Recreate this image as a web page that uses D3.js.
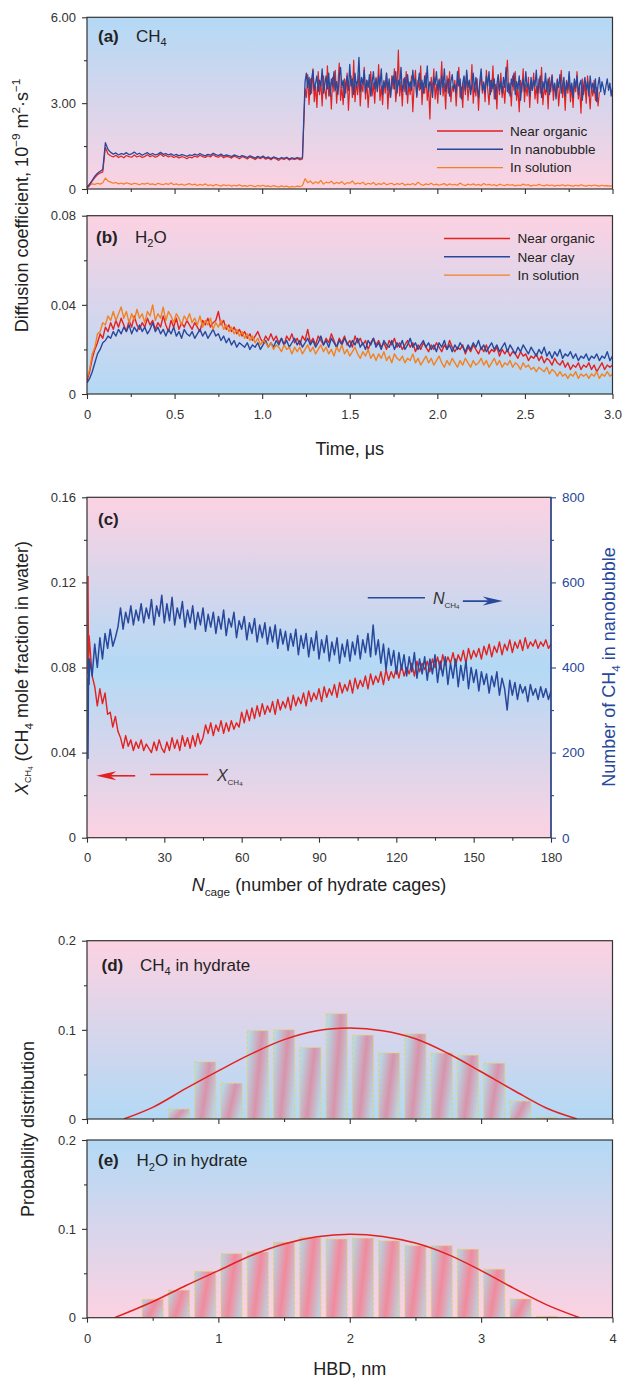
<!DOCTYPE html>
<html><head><meta charset="utf-8">
<script src="https://cdn.jsdelivr.net/npm/d3@7"></script>
<style>
body{margin:0;background:#fff;}
</style></head><body>
<svg id="chart" width="622" height="1380"></svg>
<script>
// ---------------- DATA ----------------
// Time grid 0..3 us (step 0.015 us) used for (a) "in solution" and all of (b)
const aTime = d3.range(201).map(i => +(i * 0.015).toFixed(4));
// (a) CH4 near organic / in nanobubble: 0..1.23 us at 0.015 us, then 1.245..3.0 us at 0.0075 us
const aTimeCH4 = aTime.slice(0, 83).concat(d3.range(235).map(i => +(1.245 + i * 0.0075).toFixed(4)));
const aNearOrganic = [0.02,0.12,0.28,0.40,0.50,0.56,0.60,1.45,1.22,1.16,
1.12,1.18,1.10,1.15,1.09,1.17,1.13,1.11,1.19,1.12,
1.16,1.10,1.14,1.20,1.13,1.17,1.11,1.15,1.22,1.14,
1.18,1.12,1.16,1.10,1.14,1.08,1.13,1.11,1.06,1.12,
1.09,1.15,1.11,1.18,1.13,1.10,1.16,1.12,1.20,1.14,
1.11,1.17,1.09,1.14,1.12,1.08,1.15,1.11,1.06,1.13,
1.10,1.05,1.12,1.08,1.03,1.10,1.06,1.12,1.04,1.08,
1.02,1.09,1.05,1.00,1.07,1.03,1.08,1.01,1.06,1.03,1.07,1.02,1.05,
3.50,3.20,4.00,2.95,3.85,3.35,4.20,3.05,3.60,2.85,
4.10,3.30,3.75,2.90,3.95,3.45,3.15,4.30,3.25,3.70,
2.80,3.90,3.40,4.15,3.00,3.65,4.40,3.10,3.55,2.95,
3.85,3.35,4.05,2.75,3.60,3.95,3.20,4.50,3.05,3.75,
3.30,4.00,2.90,3.65,3.40,4.25,3.15,3.80,2.85,3.55,
4.10,3.25,3.70,3.00,3.90,3.45,4.35,3.10,3.60,2.95,
3.80,3.35,4.05,2.80,3.70,3.20,3.95,3.50,4.20,3.05,
3.55,4.85,3.25,3.75,2.90,3.85,3.40,4.10,3.00,3.65,
3.30,3.95,2.70,3.60,4.15,3.20,3.80,3.45,4.30,2.95,
3.70,3.35,4.05,3.10,3.55,2.45,3.90,3.40,4.20,3.15,
3.65,3.00,3.85,3.50,4.45,3.25,3.70,2.80,3.95,3.35,
4.10,3.05,3.60,3.40,3.80,2.90,3.75,4.25,3.20,3.55,
2.85,3.90,3.30,4.05,3.10,3.65,3.45,4.35,3.00,3.70,
3.25,3.85,2.75,3.60,4.00,3.35,3.75,3.05,4.15,3.50,
2.95,3.80,3.40,4.30,3.15,3.65,2.80,3.90,3.30,4.05,
3.20,3.60,3.00,3.85,4.50,3.35,3.70,2.90,3.95,3.45,
4.10,3.10,3.55,2.70,3.80,3.40,4.20,3.05,3.65,3.25,
3.90,2.85,3.70,3.45,4.05,3.15,3.60,3.00,3.85,3.35,
4.25,2.95,3.55,3.30,3.75,2.80,3.90,3.40,4.00,3.10,
3.65,3.25,3.85,2.90,3.50,4.15,3.20,3.70,2.75,3.80,
3.35,3.95,3.05,3.60,2.85,3.75,3.40,4.10,3.15,3.55,
2.65,3.85,3.30,3.70,3.00,3.95,3.45,2.80,3.60,3.25,
3.80,3.10,3.55,2.90,3.40];
const aInNanobubble = [0.05,0.18,0.30,0.45,0.55,0.62,0.68,1.62,1.38,1.28,
1.22,1.26,1.19,1.24,1.21,1.27,1.20,1.23,1.29,1.21,
1.25,1.18,1.23,1.27,1.20,1.24,1.19,1.22,1.28,1.21,
1.24,1.19,1.23,1.17,1.21,1.16,1.20,1.18,1.14,1.19,
1.17,1.22,1.18,1.24,1.19,1.16,1.21,1.18,1.25,1.20,
1.17,1.22,1.15,1.19,1.17,1.13,1.19,1.16,1.12,1.17,
1.14,1.10,1.16,1.12,1.08,1.14,1.10,1.15,1.08,1.12,
1.06,1.12,1.09,1.05,1.10,1.07,1.11,1.05,1.09,1.06,1.10,1.07,1.09,
3.75,4.05,3.55,3.90,3.30,3.85,4.15,3.45,3.70,3.95,
3.40,3.80,3.60,4.20,3.35,3.65,3.95,3.50,4.05,3.25,
3.85,3.60,4.10,3.45,3.75,3.30,3.90,4.25,3.55,3.80,
3.20,3.70,3.95,3.45,4.35,3.60,3.85,3.30,4.05,3.55,
3.75,4.60,3.40,3.90,3.65,4.15,3.35,3.80,3.55,4.00,
3.25,3.70,4.10,3.50,3.85,3.40,3.95,3.60,4.20,3.30,
3.75,3.55,4.05,3.45,3.85,3.20,3.70,3.95,3.50,4.10,
3.35,3.80,3.60,4.25,3.40,3.65,3.90,3.30,4.00,3.55,
3.75,3.45,4.15,3.60,3.85,3.25,3.70,4.05,3.50,3.80,
3.35,3.95,3.55,4.30,3.40,3.75,3.60,3.20,3.90,3.65,
4.10,3.45,3.80,3.30,3.95,3.55,4.20,3.40,3.70,3.85,
3.25,3.75,4.00,3.50,3.65,3.35,4.10,3.60,3.85,3.15,
3.70,3.95,3.45,4.15,3.55,3.80,3.30,3.65,4.05,3.40,
3.90,3.55,3.20,3.75,4.20,3.45,3.70,3.35,3.95,3.60,
4.10,3.30,3.80,3.50,3.85,3.15,3.65,4.00,3.45,3.75,
3.35,3.90,3.55,4.25,3.40,3.70,3.25,3.85,3.60,4.05,
3.30,3.75,3.50,3.95,3.10,3.65,3.85,3.40,4.10,3.55,
3.70,3.25,3.90,3.45,3.80,3.60,4.15,3.35,3.65,3.95,
3.20,3.75,3.50,4.05,3.40,3.85,3.30,3.60,3.95,3.45,
3.70,3.15,3.80,3.55,4.00,3.35,3.65,3.90,3.25,3.75,
3.50,4.10,3.40,3.70,3.20,3.85,3.55,3.95,3.30,3.65,
3.80,3.10,3.60,3.90,3.45,3.75,3.25,3.95,3.50,3.70,
3.35,3.85,3.05,3.65,3.90,3.40,3.75,3.55,3.30,3.60,
3.85,3.45,3.70,3.25,3.55];
const aInSolution = [0.10,0.15,0.18,0.16,0.20,0.17,0.22,0.38,0.28,0.24,
0.20,0.23,0.18,0.21,0.17,0.22,0.19,0.16,0.20,0.18,
0.15,0.19,0.17,0.21,0.16,0.18,0.14,0.20,0.17,0.15,
0.19,0.16,0.22,0.15,0.18,0.14,0.17,0.13,0.16,0.19,
0.14,0.17,0.12,0.16,0.13,0.18,0.12,0.15,0.11,0.16,
0.13,0.10,0.15,0.12,0.14,0.10,0.13,0.11,0.15,0.10,
0.12,0.09,0.13,0.11,0.08,0.12,0.10,0.13,0.09,0.11,
0.08,0.12,0.09,0.07,0.11,0.08,0.10,0.06,0.09,0.07,0.10,0.08,0.12,
0.36,0.22,0.28,0.18,0.25,0.20,0.30,0.17,0.24,0.21,
0.27,0.18,0.23,0.19,0.26,0.16,0.22,0.20,0.28,0.17,
0.21,0.18,0.24,0.15,0.20,0.17,0.23,0.14,0.19,0.16,
0.22,0.15,0.18,0.20,0.14,0.19,0.16,0.21,0.13,0.17,
0.15,0.19,0.14,0.24,0.16,0.13,0.18,0.15,0.20,0.14,
0.17,0.13,0.16,0.19,0.12,0.18,0.14,0.16,0.13,0.21,
0.15,0.12,0.17,0.14,0.18,0.13,0.16,0.12,0.19,0.14,
0.16,0.13,0.15,0.11,0.17,0.14,0.12,0.16,0.13,0.15,
0.11,0.14,0.12,0.17,0.13,0.15,0.10,0.14,0.12,0.16,
0.13,0.11,0.15,0.12,0.14,0.10,0.13,0.12,0.15,0.11,
0.14,0.12,0.10,0.13,0.11,0.15,0.12,0.10,0.13,0.11,
0.14,0.12,0.10,0.13,0.11,0.12,0.10,0.12];

// (b) H2O diffusion coefficient, on aTime
const bNearOrganic = [0.006,0.010,0.016,0.020,0.023,0.027,0.025,0.030,0.028,0.032,
0.029,0.033,0.030,0.034,0.031,0.028,0.033,0.030,0.035,0.031,
0.029,0.032,0.030,0.034,0.031,0.033,0.029,0.032,0.030,0.035,
0.031,0.028,0.033,0.030,0.034,0.029,0.032,0.030,0.033,0.031,
0.029,0.032,0.030,0.028,0.033,0.031,0.034,0.030,0.032,0.033,
0.037,0.031,0.033,0.029,0.031,0.028,0.030,0.027,0.029,0.026,
0.028,0.025,0.027,0.024,0.026,0.028,0.025,0.023,0.026,0.024,
0.027,0.024,0.026,0.023,0.025,0.022,0.026,0.024,0.027,0.023,
0.025,0.022,0.026,0.024,0.029,0.023,0.025,0.022,0.026,0.024,
0.022,0.025,0.023,0.027,0.024,0.021,0.025,0.023,0.026,0.022,
0.024,0.021,0.026,0.023,0.025,0.022,0.024,0.020,0.023,0.025,
0.022,0.024,0.021,0.023,0.020,0.024,0.022,0.025,0.021,0.023,
0.020,0.022,0.024,0.021,0.023,0.019,0.022,0.020,0.023,0.021,
0.019,0.022,0.020,0.023,0.021,0.019,0.022,0.020,0.024,0.021,
0.019,0.021,0.020,0.022,0.018,0.021,0.019,0.022,0.020,0.018,
0.021,0.019,0.022,0.018,0.020,0.019,0.021,0.017,0.020,0.018,
0.020,0.017,0.019,0.018,0.016,0.019,0.017,0.018,0.015,0.017,
0.016,0.018,0.015,0.017,0.014,0.016,0.015,0.013,0.016,0.014,
0.013,0.015,0.012,0.014,0.011,0.013,0.012,0.014,0.011,0.013,
0.012,0.014,0.011,0.013,0.010,0.012,0.014,0.011,0.013,0.012,
0.013];
const bNearClay = [0.005,0.007,0.010,0.014,0.018,0.020,0.023,0.024,0.026,0.025,
0.028,0.026,0.029,0.027,0.030,0.028,0.031,0.027,0.030,0.028,
0.031,0.028,0.030,0.027,0.029,0.032,0.028,0.030,0.027,0.029,
0.026,0.029,0.027,0.030,0.026,0.028,0.025,0.029,0.027,0.026,
0.028,0.025,0.027,0.029,0.026,0.028,0.025,0.027,0.029,0.026,
0.027,0.024,0.026,0.023,0.025,0.022,0.024,0.021,0.023,0.022,
0.021,0.023,0.020,0.022,0.021,0.023,0.020,0.022,0.024,0.021,
0.023,0.021,0.024,0.022,0.025,0.022,0.024,0.021,0.023,0.025,
0.022,0.024,0.021,0.023,0.025,0.022,0.024,0.021,0.023,0.026,
0.022,0.024,0.021,0.025,0.023,0.021,0.024,0.022,0.025,0.023,
0.021,0.024,0.022,0.025,0.021,0.023,0.020,0.024,0.022,0.025,
0.021,0.023,0.020,0.024,0.022,0.021,0.024,0.020,0.023,0.021,
0.024,0.020,0.022,0.025,0.021,0.023,0.020,0.022,0.024,0.021,
0.023,0.020,0.022,0.019,0.023,0.021,0.024,0.020,0.022,0.019,
0.022,0.020,0.023,0.021,0.019,0.022,0.020,0.023,0.021,0.024,
0.020,0.022,0.019,0.021,0.023,0.020,0.022,0.019,0.021,0.023,
0.019,0.022,0.020,0.018,0.021,0.019,0.022,0.020,0.018,0.021,
0.019,0.017,0.020,0.018,0.021,0.017,0.019,0.016,0.019,0.017,
0.020,0.016,0.018,0.017,0.019,0.016,0.018,0.015,0.017,0.016,
0.018,0.015,0.017,0.016,0.018,0.015,0.017,0.016,0.019,0.015,
0.017];
const bInSolution = [0.007,0.011,0.018,0.021,0.027,0.028,0.032,0.031,0.035,0.033,
0.037,0.033,0.036,0.039,0.034,0.037,0.032,0.036,0.033,0.038,
0.034,0.036,0.032,0.037,0.035,0.040,0.033,0.036,0.034,0.039,
0.033,0.037,0.035,0.032,0.036,0.034,0.031,0.035,0.033,0.036,
0.032,0.034,0.031,0.035,0.030,0.033,0.031,0.034,0.029,0.032,
0.030,0.033,0.029,0.031,0.028,0.030,0.027,0.029,0.026,0.028,
0.025,0.027,0.024,0.026,0.023,0.025,0.022,0.024,0.023,0.021,
0.023,0.020,0.022,0.021,0.019,0.022,0.020,0.021,0.018,0.021,
0.019,0.021,0.018,0.020,0.022,0.019,0.021,0.018,0.020,0.022,
0.019,0.021,0.018,0.020,0.017,0.021,0.019,0.022,0.018,0.020,
0.017,0.019,0.021,0.018,0.016,0.019,0.017,0.020,0.016,0.018,
0.015,0.018,0.016,0.019,0.015,0.017,0.014,0.018,0.016,0.015,
0.017,0.014,0.016,0.015,0.018,0.014,0.016,0.013,0.015,0.017,
0.014,0.016,0.013,0.015,0.017,0.014,0.012,0.015,0.013,0.016,
0.014,0.012,0.015,0.013,0.016,0.014,0.012,0.015,0.013,0.014,
0.016,0.013,0.015,0.012,0.014,0.016,0.013,0.015,0.012,0.014,
0.013,0.015,0.012,0.014,0.013,0.011,0.014,0.012,0.013,0.011,
0.012,0.010,0.012,0.011,0.010,0.012,0.009,0.011,0.010,0.008,
0.010,0.008,0.009,0.007,0.009,0.008,0.010,0.007,0.009,0.008,
0.009,0.007,0.009,0.008,0.010,0.007,0.009,0.008,0.010,0.008,
0.009];

// (c) vs number of hydrate cages
const cCages = [0.4, 0.4, 0.4, 0.6, 0.8].concat(d3.range(1, 181));
const cXch4 = [0.123,0.077,0.118,0.080,0.095,
0.092,0.076,0.071,0.062,0.070,0.063,0.068,0.058,0.059,0.052,
0.057,0.050,0.047,0.042,0.048,0.043,0.046,0.041,0.045,0.042,
0.046,0.041,0.044,0.042,0.040,0.045,0.041,0.046,0.042,0.040,
0.045,0.041,0.047,0.042,0.046,0.041,0.048,0.043,0.047,0.042,
0.048,0.043,0.049,0.044,0.047,0.053,0.049,0.054,0.048,0.053,
0.050,0.055,0.049,0.054,0.050,0.055,0.051,0.054,0.052,0.059,
0.054,0.060,0.055,0.061,0.056,0.062,0.057,0.063,0.058,0.062,
0.059,0.064,0.058,0.065,0.060,0.064,0.061,0.066,0.060,0.067,
0.062,0.066,0.063,0.068,0.062,0.069,0.064,0.068,0.065,0.070,
0.064,0.071,0.066,0.070,0.067,0.072,0.066,0.073,0.068,0.072,
0.069,0.074,0.068,0.075,0.070,0.074,0.071,0.076,0.070,0.077,
0.072,0.076,0.073,0.078,0.072,0.079,0.074,0.078,0.075,0.080,
0.075,0.081,0.076,0.080,0.077,0.082,0.076,0.083,0.078,0.082,
0.079,0.083,0.078,0.084,0.080,0.085,0.079,0.086,0.081,0.085,
0.082,0.087,0.081,0.086,0.083,0.088,0.082,0.089,0.084,0.088,
0.085,0.089,0.084,0.090,0.086,0.091,0.085,0.090,0.087,0.092,
0.086,0.091,0.088,0.093,0.087,0.092,0.089,0.093,0.088,0.094,
0.089,0.092,0.090,0.093,0.089,0.092,0.090,0.093,0.089,0.091];
const cNch4 = [185,375,200,420,360,
420,380,455,400,470,420,480,445,490,450,
470,495,540,490,530,505,545,500,535,510,
550,505,540,515,560,500,545,520,570,505,
550,510,565,500,540,515,555,495,535,505,
545,490,530,500,540,485,525,495,530,480,
520,490,535,475,515,495,530,470,510,490,
520,465,505,480,515,460,500,470,505,455,
495,460,500,445,490,455,485,440,480,450,
490,430,475,445,480,425,470,440,485,420,
465,435,475,415,460,430,470,410,455,425,
465,415,460,430,475,420,465,435,480,425,
500,430,465,410,455,395,445,405,440,385,
435,395,430,380,425,390,435,375,420,385,
425,370,420,385,430,365,415,380,425,360,
410,375,420,355,405,370,415,350,400,365,
395,345,390,360,385,340,380,355,390,335,
375,350,300,370,335,365,325,360,340,355,
320,360,335,350,325,355,330,350,325,345];

// (d)/(e) hydrogen-bond distance (HBD) distributions, bin centres in nm
const hbdBins = [0.5,0.7,0.9,1.1,1.3,1.5,1.7,1.9,2.1,2.3,2.5,2.7,2.9,3.1,3.3,3.5];
const hbdBarWidth = 0.16;
const dCH4 = [0,0.011,0.064,0.040,0.099,0.100,0.080,0.118,0.094,0.074,0.0955,0.074,0.0715,0.0625,0.020,0.0015];
const eH2O = [0.0207,0.031,0.052,0.072,0.074,0.085,0.0905,0.0885,0.0895,0.0865,0.081,0.081,0.077,0.0545,0.021,0.0015];
const dFitX = [0.28,0.5,0.75,1.0,1.25,1.5,1.75,2.0,2.25,2.5,2.75,3.0,3.25,3.5,3.73];
const dFitY = [0,0.013,0.034,0.054,0.073,0.089,0.099,0.102,0.099,0.090,0.0735,0.053,0.032,0.012,0];
const eFitX = [0.21,0.5,0.75,1.0,1.25,1.5,1.75,2.0,2.25,2.5,2.75,3.0,3.25,3.5,3.75];
const eFitY = [0,0.018,0.036,0.053,0.070,0.083,0.091,0.094,0.0915,0.084,0.071,0.053,0.033,0.0145,0];

// tick values
const timeMajor = [0,0.5,1.0,1.5,2.0,2.5,3.0];
const timeMinor = [0.25,0.75,1.25,1.75,2.25,2.75];
const aYMajor = [0,3,6], aYMinor = [1.5,4.5];
const bYMajor = [0,0.04,0.08], bYMinor = [0.02,0.06];
const cXMajor = [0,30,60,90,120,150,180], cXMinor = [15,45,75,105,135,165];
const cYLMajor = [0,0.04,0.08,0.12,0.16], cYLMinor = [0.02,0.06,0.10,0.14];
const cYRMajor = [0,200,400,600,800], cYRMinor = [100,300,500,700];
const hbdMajor = [0,1,2,3,4], hbdMinor = [0.5,1.5,2.5,3.5];
const pYMajor = [0,0.1,0.2], pYMinor = [0.05,0.15];

// ---------------- STYLE ----------------
const FONT = '"Liberation Sans", Arial, Helvetica, sans-serif';
const RED = "#e3211f", BLUE = "#28489b", ORANGE = "#f38121", FRAME = "#333";
const BG_BLUE = "#b3d9f5", BG_PINK = "#fcd2e2";

const svg = d3.select("#chart").style("font-family", FONT);
const defs = svg.append("defs");

function vGrad(id, stops) {
  const g = defs.append("linearGradient").attr("id", id)
    .attr("x1", 0).attr("y1", 0).attr("x2", 0).attr("y2", 1);
  stops.forEach(([o, c]) => g.append("stop").attr("offset", o).attr("stop-color", c));
}
vGrad("bgA", [[0, BG_BLUE], [1, BG_PINK]]);
vGrad("bgB", [[0, BG_PINK], [1, BG_BLUE]]);
vGrad("bgC", [[0, BG_PINK], [0.5, BG_BLUE], [1, BG_PINK]]);
vGrad("bgD", [[0, BG_PINK], [1, BG_BLUE]]);
vGrad("bgE", [[0, BG_BLUE], [1, BG_PINK]]);

function barGrad(id, stops) {
  const g = defs.append("linearGradient").attr("id", id)
    .attr("x1", 0).attr("y1", 0.3).attr("x2", 1).attr("y2", 0.7);
  stops.forEach(([o, c]) => g.append("stop").attr("offset", o).attr("stop-color", c));
}
barGrad("barD", [[0, "#b6d9e6"], [0.52, "#d893aa"], [1, "#bad6e2"]]);
barGrad("barE", [[0, "#bccdda"], [0.5, "#f2899c"], [1, "#c2ccd8"]]);

const X0 = 87, X1 = 612.5, XC1 = 551;
const P = {
  a: {top: 17.3, bottom: 189, right: X1},
  b: {top: 215.7, bottom: 394, right: X1},
  c: {top: 497.3, bottom: 837.7, right: XC1},
  d: {top: 940.7, bottom: 1119, right: X1},
  e: {top: 1140, bottom: 1317.7, right: X1}
};

function panelBase(key, bg) {
  const p = P[key];
  svg.append("rect").attr("x", X0).attr("y", p.top).attr("width", p.right - X0)
    .attr("height", p.bottom - p.top).attr("fill", `url(#${bg})`);
  defs.append("clipPath").attr("id", "clip" + key).append("rect")
    .attr("x", X0).attr("y", p.top).attr("width", p.right - X0).attr("height", p.bottom - p.top);
  return svg.append("g").attr("clip-path", `url(#clip${key})`);
}
function frame(key) {
  const p = P[key];
  svg.append("rect").attr("x", X0).attr("y", p.top).attr("width", p.right - X0)
    .attr("height", p.bottom - p.top).attr("fill", "none").attr("stroke", FRAME).attr("stroke-width", 1.2);
}
function axis(gen, tx, ty, color, size) {
  const g = svg.append("g").attr("transform", `translate(${tx},${ty})`).call(gen);
  g.select(".domain").remove();
  g.selectAll(".tick line").attr("stroke", color).attr("stroke-width", 1.1);
  g.selectAll(".tick text").attr("fill", color).attr("font-size", size || 13).attr("font-family", FONT);
  return g;
}
function yAxes(scale, major, minor, fmt) {
  axis(d3.axisLeft(scale).tickValues(major).tickSize(5).tickPadding(6).tickFormat(fmt), X0, 0, FRAME);
  axis(d3.axisLeft(scale).tickValues(minor).tickSize(3).tickFormat(() => ""), X0, 0, FRAME);
}
function xAxes(scale, y, major, minor, fmt, pad) {
  axis(d3.axisBottom(scale).tickValues(major).tickSize(5).tickPadding(pad || 11).tickFormat(fmt || (() => "")), 0, y, FRAME);
  axis(d3.axisBottom(scale).tickValues(minor).tickSize(3).tickFormat(() => ""), 0, y, FRAME);
}
const f2 = d => d === 0 ? "0" : d3.format(".2f")(d);
const f1 = d => d === 0 ? "0" : d3.format(".1f")(d);

// rich text helper (sub/superscripts)
function rich(sel, parts, F) {
  let shift = 0;
  parts.forEach(p => {
    const ts = sel.append("tspan").text(p.t);
    const target = p.shift !== undefined ? p.shift * F : (p.sub ? 0.28 * F : p.sup ? -0.42 * F : 0);
    if (target - shift !== 0) ts.attr("dy", target - shift);
    shift = target;
    if (p.size) ts.attr("font-size", p.size * F);
    else if (p.sub || p.sup) ts.attr("font-size", 0.65 * F);
    if (p.italic) ts.attr("font-style", "italic");
  });
}
function label(x, y, parts, F, opts = {}) {
  const t = svg.append("text").attr("x", x).attr("y", y).attr("font-size", F)
    .attr("fill", opts.color || "#222").attr("font-family", FONT);
  if (opts.anchor) t.attr("text-anchor", opts.anchor);
  if (opts.bold) t.attr("font-weight", "bold");
  if (opts.rotate) t.attr("transform", `rotate(-90,${x},${y})`);
  rich(t, parts, F);
  return t;
}
function lineGen(x, y) { return d3.line().x(d => x(d[0])).y(d => y(d[1])); }

// ---------------- PANEL (a) ----------------
const xT = d3.scaleLinear([0, 3], [X0, X1]);
const yA = d3.scaleLinear([0, 6], [P.a.bottom, P.a.top]);
{
  const g = panelBase("a", "bgA");
  const L = lineGen(xT, yA);
  [[aTime, aInSolution, ORANGE, 1.2], [aTimeCH4, aNearOrganic, RED, 1.2], [aTimeCH4, aInNanobubble, BLUE, 1.3]].forEach(([tt, s, c, w]) => {
    g.append("path").attr("d", L(tt.map((t, i) => [t, s[i]]))).attr("fill", "none")
      .attr("stroke", c).attr("stroke-width", w).attr("stroke-linejoin", "round");
  });
  frame("a");
  yAxes(yA, aYMajor, aYMinor, f2);
  xAxes(xT, P.a.bottom, timeMajor, timeMinor);
  label(98, 41.5, [{t: "(a)"}], 17, {bold: true});
  label(136, 41.5, [{t: "CH"}, {t: "4", sub: true}], 17);
  const leg = [["Near organic", RED], ["In nanobubble", BLUE], ["In solution", ORANGE]];
  leg.forEach(([n, c], i) => {
    const y = 131 + i * 18.3;
    svg.append("line").attr("x1", 437).attr("x2", 503).attr("y1", y).attr("y2", y).attr("stroke", c).attr("stroke-width", 1.4);
    label(510, y + 4.8, [{t: n}], 13.5);
  });
}

// ---------------- PANEL (b) ----------------
const yB = d3.scaleLinear([0, 0.08], [P.b.bottom, P.b.top]);
{
  const g = panelBase("b", "bgB");
  const L = lineGen(xT, yB);
  [[bNearOrganic, RED], [bNearClay, BLUE], [bInSolution, ORANGE]].forEach(([s, c]) => {
    g.append("path").attr("d", L(aTime.map((t, i) => [t, s[i]]))).attr("fill", "none")
      .attr("stroke", c).attr("stroke-width", 1.4).attr("stroke-linejoin", "round");
  });
  frame("b");
  yAxes(yB, bYMajor, bYMinor, f2);
  xAxes(xT, P.b.bottom, timeMajor, timeMinor, f1, 11);
  label(96, 242.5, [{t: "(b)"}], 17, {bold: true});
  label(135, 242.5, [{t: "H"}, {t: "2", sub: true}, {t: "O"}], 17);
  const leg = [["Near organic", RED], ["Near clay", BLUE], ["In solution", ORANGE]];
  leg.forEach(([n, c], i) => {
    const y = 238.5 + i * 18.3;
    svg.append("line").attr("x1", 444).attr("x2", 510).attr("y1", y).attr("y2", y).attr("stroke", c).attr("stroke-width", 1.4);
    label(517.5, y + 4.8, [{t: n}], 13.5);
  });
  label(27.5, 205.5, [{t: "Diffusion coefficient,  10"}, {t: "\u22129", sup: true}, {t: " m"}, {t: "2", sup: true},
    {t: "\u00b7s"}, {t: "\u22121", sup: true}], 18, {rotate: true, anchor: "middle"});
  label((X0 + X1) / 2, 455, [{t: "Time, \u03bcs"}], 18, {anchor: "middle"});
}

// ---------------- PANEL (c) ----------------
const xC = d3.scaleLinear([0, 180], [X0, XC1]);
const yCL = d3.scaleLinear([0, 0.16], [P.c.bottom, P.c.top]);
const yCR = d3.scaleLinear([0, 800], [P.c.bottom, P.c.top]);
{
  const g = panelBase("c", "bgC");
  g.append("path").attr("d", lineGen(xC, yCL)(cCages.map((n, i) => [n, cXch4[i]])))
    .attr("fill", "none").attr("stroke", RED).attr("stroke-width", 1.4).attr("stroke-linejoin", "round");
  g.append("path").attr("d", lineGen(xC, yCR)(cCages.map((n, i) => [n, cNch4[i]])))
    .attr("fill", "none").attr("stroke", BLUE).attr("stroke-width", 1.5).attr("stroke-linejoin", "round");
  frame("c");
  svg.append("line").attr("x1", XC1).attr("x2", XC1).attr("y1", P.c.top).attr("y2", P.c.bottom).attr("stroke", BLUE).attr("stroke-width", 1.3);
  yAxes(yCL, cYLMajor, cYLMinor, f2);
  axis(d3.axisRight(yCR).tickValues(cYRMajor).tickSize(5).tickPadding(6).tickFormat(d3.format("d")), XC1, 0, BLUE, 13.5);
  axis(d3.axisRight(yCR).tickValues(cYRMinor).tickSize(3).tickFormat(() => ""), XC1, 0, BLUE);
  xAxes(xC, P.c.bottom, cXMajor, cXMinor, d3.format("d"), 10);
  label(98, 525, [{t: "(c)"}], 17, {bold: true});

  // annotations (positions in data units)
  const arrowHead = (xTip, yTip, dir, color) => {
    const l = 20 * dir, h = 4.5;
    svg.append("path").attr("d", `M${xTip},${yTip} L${xTip + l},${yTip - h} L${xTip + l * 0.7},${yTip} L${xTip + l},${yTip + h} Z`).attr("fill", color);
  };
  const ya1 = yCL(0.0291), ya2 = yCL(0.0297);
  svg.append("line").attr("x1", xC(3.6) + 8).attr("x2", xC(18.7)).attr("y1", ya1).attr("y2", ya1).attr("stroke", RED).attr("stroke-width", 1.6);
  arrowHead(xC(3.6), ya1, 1, RED);
  svg.append("line").attr("x1", xC(24.5)).attr("x2", xC(47)).attr("y1", ya2).attr("y2", ya2).attr("stroke", RED).attr("stroke-width", 1.6);
  label(xC(50.4), ya2 + 6, [{t: "X", italic: true}, {t: "CH", shift: 0.25, size: 0.5}, {t: "4", shift: 0.35, size: 0.38}], 16, {color: "#333"});

  const yb1 = yCR(564), yb2 = yCR(556);
  svg.append("line").attr("x1", xC(108.9)).attr("x2", xC(131.1)).attr("y1", yb1).attr("y2", yb1).attr("stroke", BLUE).attr("stroke-width", 1.6);
  label(xC(134.2), yb1 + 6, [{t: "N", italic: true}, {t: "CH", shift: 0.25, size: 0.5}, {t: "4", shift: 0.35, size: 0.38}], 16, {color: "#333"});
  svg.append("line").attr("x1", xC(145.8)).attr("x2", xC(161.3) - 8).attr("y1", yb2).attr("y2", yb2).attr("stroke", BLUE).attr("stroke-width", 1.6);
  arrowHead(xC(161.3), yb2, -1, BLUE);

  label(27.5, 668, [{t: "X", italic: true}, {t: "CH", shift: 0.22, size: 0.5}, {t: "4", shift: 0.32, size: 0.36},
    {t: " (CH", shift: 0}, {t: "4", sub: true}, {t: " mole fraction in water)"}], 18, {rotate: true, anchor: "middle"});
  label(615, 667, [{t: "Number of CH"}, {t: "4", sub: true}, {t: " in nanobubble"}], 18, {rotate: true, anchor: "middle", color: BLUE});
  label((X0 + XC1) / 2, 891, [{t: "N", italic: true}, {t: "cage", sub: true}, {t: " (number of hydrate cages)"}], 18, {anchor: "middle"});
}

// ---------------- PANELS (d), (e) ----------------
const xH = d3.scaleLinear([0, 4], [X0, X1]);
function histPanel(key, bg, yScale, vals, fx, fy, barFill) {
  const g = panelBase(key, bg);
  g.selectAll("rect.bar").data(hbdBins).enter().append("rect").attr("class", "bar")
    .attr("x", d => xH(d - hbdBarWidth / 2)).attr("width", d => xH(d + hbdBarWidth / 2) - xH(d - hbdBarWidth / 2))
    .attr("y", (d, i) => yScale(vals[i])).attr("height", (d, i) => yScale(0) - yScale(vals[i]))
    .attr("fill", `url(#${barFill})`).attr("stroke", "#e9cf5c").attr("stroke-width", 0.9).attr("stroke-dasharray", "3,2");
  g.append("path").attr("d", d3.line().curve(d3.curveCatmullRom).x(d => xH(d[0])).y(d => yScale(d[1]))(fx.map((x, i) => [x, fy[i]])))
    .attr("fill", "none").attr("stroke", RED).attr("stroke-width", 1.5);
  frame(key);
  yAxes(yScale, pYMajor, pYMinor, f1);
}
const yD = d3.scaleLinear([0, 0.2], [P.d.bottom, P.d.top]);
const yE = d3.scaleLinear([0, 0.2], [P.e.bottom, P.e.top]);
histPanel("d", "bgD", yD, dCH4, dFitX, dFitY, "barD");
xAxes(xH, P.d.bottom, hbdMajor, hbdMinor);
label(101.5, 970.5, [{t: "(d)"}], 17, {bold: true});
label(140, 970.5, [{t: "CH"}, {t: "4", sub: true}, {t: " in hydrate"}], 17);
histPanel("e", "bgE", yE, eH2O, eFitX, eFitY, "barE");
xAxes(xH, P.e.bottom, hbdMajor, hbdMinor, d3.format("d"), 11);
label(98, 1166, [{t: "(e)"}], 17, {bold: true});
label(136.5, 1166, [{t: "H"}, {t: "2", sub: true}, {t: "O in hydrate"}], 17);
label(33.5, 1129, [{t: "Probability distribution"}], 18, {rotate: true, anchor: "middle"});
label((X0 + X1) / 2, 1375, [{t: "HBD, nm"}], 18, {anchor: "middle"});
</script>
</body></html>
